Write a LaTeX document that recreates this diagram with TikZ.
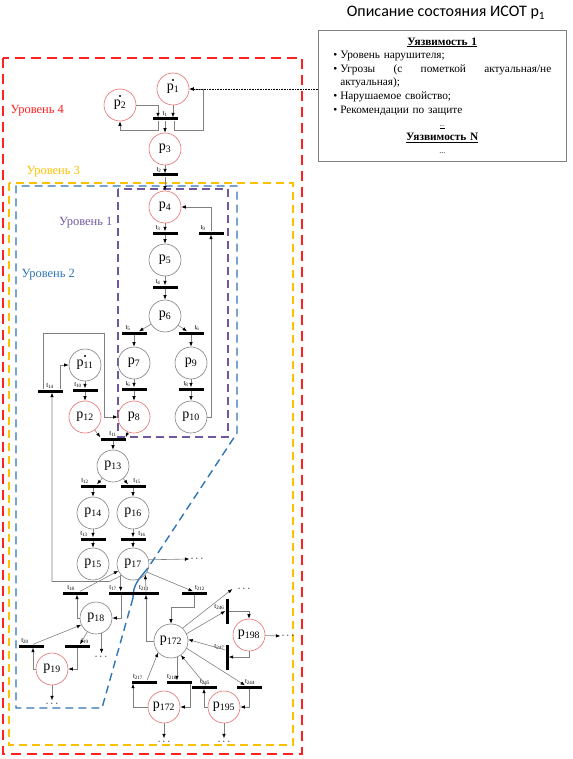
\documentclass[tikz,border=0pt]{standalone}
\usepackage{fontspec}
\setmainfont{Liberation Serif}
\newfontfamily\titlefont{Carlito}
\usetikzlibrary{arrows.meta}
\definecolor{lvlred}{RGB}{255,32,32}
\definecolor{lvlyellow}{RGB}{255,192,0}
\definecolor{lvlblue}{RGB}{46,117,182}
\definecolor{lvlpurple}{RGB}{112,88,160}
\definecolor{placered}{RGB}{232,110,110}
\definecolor{arcgray}{RGB}{128,128,128}
\newcommand\pn[1]{p\textsubscript{#1}}
\newcommand\tn[1]{t\textsubscript{#1}}
\tikzset{
    place/.style={circle,draw=arcgray,line width=0.6pt,minimum size=32pt,inner sep=0pt,
        font=\fontsize{14}{14}\selectfont},
    mplace/.style={place,draw=placered},
    trans/.style={fill=black,minimum width=25pt,minimum height=3pt,inner sep=0pt},
    vtrans/.style={fill=black,minimum width=3pt,minimum height=25pt,inner sep=0pt},
    tlab/.style={font=\fontsize{7}{7}\selectfont,inner sep=0.8pt},
    flow/.style={draw=arcgray,line width=0.6pt,-{Latex[length=4.5pt,width=3.5pt,color=black]}},
    lvlbox/.style={dash pattern=on 8pt off 5pt,line width=1.4pt},
    lvltext/.style={font=\fontsize{12.5}{12.5}\selectfont,anchor=west},
    dotsnode/.style={inner sep=1pt,font=\fontsize{11}{11}\selectfont},
    infobox/.style={draw=arcgray,line width=0.6pt,text width=218pt,inner xsep=15pt,
        inner ysep=4pt,minimum height=131pt,anchor=north west,
        font=\fontsize{11.3}{13.6}\selectfont}}

\begin{document}
\begin{tikzpicture}[x=1pt,y=-1pt]
\useasboundingbox (0,0) rectangle (572,759);

% levels
\draw[lvlbox,lvlred,line width=2pt,dash pattern=on 10pt off 6pt] (3,58) rectangle (302,754);
\draw[lvlbox,lvlyellow] (9,183) rectangle (293,745);
\draw[lvlbox,lvlpurple] (118,189) rectangle (228,437);
\draw[lvlbox,lvlblue] (133,598) -- (102,708) -- (16,708) -- (16,186) -- (237,186) -- (237,433) -- (148,568);
\draw[lvlblue,line width=1.4pt] (148,568) .. controls (138,580) and (133,585) .. (133,598);
\node[lvltext,text=lvlred] (lv4) at (7,111) {Уровень 4};
\node[lvltext,text=lvlyellow] (lv3) at (23,172) {Уровень 3};
\node[lvltext,text=lvlpurple,anchor=east] (lv1) at (116,223) {Уровень 1};
\node[lvltext,text=lvlblue] (lv2) at (18,275) {Уровень 2};

% description of p1
\node[font=\titlefont\fontsize{16}{16}\selectfont] (title) at (446,13) {Описание состояния ИСОТ \pn{1}};
\node[infobox] (box) at (318,30) {%
    {\centering\underline{\textbf{Уязвимость 1}}\par}
    \makebox[7pt][l]{\textbullet}Уровень нарушителя;\\
    \makebox[7pt][l]{\textbullet}\makebox[211pt][l]{Угрозы\hfill(с\hfill пометкой\hfill актуальная/не}\\
    \hspace*{7pt}актуальная);\\
    \makebox[7pt][l]{\textbullet}Нарушаемое свойство;\\
    \makebox[7pt][l]{\textbullet}Рекомендации по защите\par
    {\centering\underline{\fontsize{7}{7}\selectfont...}\par
    \underline{\textbf{Уязвимость N}}\par
    {\fontsize{8}{8}\selectfont...}\par}};

% places
\node[mplace] (p1) at (173,89) {\pn{1}};
\node[mplace] (p2) at (120,105) {\pn{2}};
\node[mplace] (p3) at (165,149) {\pn{3}};
\node[mplace] (p4) at (165,207) {\pn{4}};
\node[place] (p5) at (165,260) {\pn{5}};
\node[place] (p6) at (165,316) {\pn{6}};
\node[place] (p7) at (134,363) {\pn{7}};
\node[place] (p9) at (191,363) {\pn{9}};
\node[mplace] (p8) at (134,417) {\pn{8}};
\node[place] (p10) at (191,417) {\pn{10}};
\node[place] (p11) at (85,365) {\pn{11}};
\node[mplace] (p12) at (85,417) {\pn{12}};
\node[place] (p13) at (113,466) {\pn{13}};
\node[place] (p14) at (93,513) {\pn{14}};
\node[place] (p16) at (133,513) {\pn{16}};
\node[place] (p15) at (93,564) {\pn{15}};
\node[place] (p17) at (133,564) {\pn{17}};
\node[place] (p18) at (96,618) {\pn{18}};
\node[mplace] (p19) at (52,669) {\pn{19}};
\node[place,minimum size=34pt] (p172a) at (171,641) {\pn{172}};
\node[mplace] (p198) at (249,635) {\pn{198}};
\node[mplace] (p172b) at (164,707) {\pn{172}};
\node[mplace] (p195) at (224,707) {\pn{195}};
% tokens
\fill ([yshift=9pt]p1.center) circle (1.1pt);
\fill ([yshift=9pt]p2.center) circle (1.1pt);
\fill ([yshift=9pt]p11.center) circle (1.1pt);

% transitions
\node[trans,label={[tlab]above:\tn{1}}] (t1) at (165,119) {};
\node[trans,label={[tlab,xshift=-6pt]above:\tn{2}}] (t2) at (165,175) {};
\node[trans,label={[tlab,xshift=-7pt]above:\tn{3}}] (t3) at (165,233) {};
\node[trans,label={[tlab,xshift=-7pt]above:\tn{4}}] (t4) at (165,287) {};
\node[trans,label={[tlab,xshift=-6pt]above:\tn{5}}] (t5) at (134,333) {};
\node[trans,label={[tlab,xshift=6pt]above:\tn{6}}] (t6a) at (191,333) {};
\node[trans,label={[tlab,xshift=-6pt]above:\tn{6}}] (t6b) at (134,389) {};
\node[trans,label={[tlab,xshift=-5pt]above:\tn{8}}] (t8) at (191,389) {};
\node[trans,label={[tlab,xshift=-8pt]above:\tn{9}}] (t9) at (211,233) {};
\node[trans,label={[tlab,xshift=-7pt]above:\tn{10}}] (t10) at (85,390) {};
\node[trans,label={[tlab]above:\tn{14}}] (t14) at (50,391) {};
\node[trans,label={[tlab]above:\tn{11}}] (t11) at (113,439) {};
\node[trans,label={[tlab,xshift=-8pt]above:\tn{12}}] (t12) at (93,486) {};
\node[trans,label={[tlab,xshift=4pt]above:\tn{15}}] (t15) at (133,486) {};
\node[trans,label={[tlab,xshift=-9pt]above:\tn{13}}] (t13) at (93,539) {};
\node[trans,label={[tlab,xshift=9pt]above:\tn{16}}] (t16) at (133,539) {};
\node[trans,label={[tlab,xshift=-4pt]above:\tn{18}}] (t18) at (75,593) {};
\node[trans,label={[tlab,xshift=-8pt]above:\tn{17}}] (t17) at (121,593) {};
\node[trans,label={[tlab,xshift=-2pt]above:\tn{213}}] (t213) at (146,593) {};
\node[trans,label={[tlab,xshift=6pt]above:\tn{212}}] (t212) at (194,593) {};
\node[trans,label={[tlab,xshift=-6pt]above:\tn{20}}] (t20) at (31,646) {};
\node[trans,label={[tlab,xshift=8pt]above:\tn{19}}] (t19) at (77,646) {};
\node[trans,label={[tlab,xshift=-6pt]above:\tn{217}}] (t217) at (144,682) {};
\node[trans,label={[tlab,xshift=-7pt]above:\tn{216}}] (t216) at (179,682) {};
\node[trans,label={[tlab,xshift=1pt]above:\tn{245}}] (t245) at (204,687) {};
\node[trans,label={[tlab,xshift=1pt]above:\tn{244}}] (t244) at (249,687) {};
\node[vtrans,label={[tlab,yshift=4pt]left:\tn{246}}] (t246) at (227,611) {};
\node[vtrans,label={[tlab,yshift=10pt]left:\tn{247}}] (t247) at (227,657) {};

% continuation dots
\node[dotsnode] (d17) at (197,559) {$\cdots$};
\node[dotsnode] (d18) at (101,657) {$\cdots$};
\node[dotsnode] (d19) at (52,704) {$\cdots$};
\node[dotsnode] (d172) at (244,589) {$\cdots$};
\node[dotsnode] (d198) at (288,636) {$\cdots$};
\node[dotsnode] (d172b) at (164,742) {$\cdots$};
\node[dotsnode] (d195) at (224,742) {$\cdots$};

% arcs, level 4
\draw[flow] (p2) -| ([xshift=-7pt]t1.north);
\draw[flow] (p1) -- (p1 |- t1.north);
\draw[flow] (t1) -- (p3);
\draw[flow] ([xshift=-7pt]t1.south) -- ++(0,10) -| (p2);
\draw[flow] ([xshift=9pt]t1.south) -- ++(0,10) -| ([xshift=14pt]p1.east) -- (p1.east);
\draw[flow,densely dotted,line width=0.9pt,draw=black] (box.west |- p1.east) -- (p1.east);
\draw[flow] (p3) -- (t2);
\draw[flow] (t2) -- (p4);
% level 1
\draw[flow] (p4) -- (t3);
\draw[flow] (t3) -- (p5);
\draw[flow] (p5) -- (t4);
\draw[flow] (t4) -- (p6);
\draw[flow] (p6) -- ([xshift=5pt]t5.north);
\draw[flow] (p6) -- ([xshift=-4pt]t6a.north);
\draw[flow] (t5) -- (p7);
\draw[flow] (t6a) -- (p9);
\draw[flow] (p7) -- (t6b);
\draw[flow] (t6b) -- (p8);
\draw[flow] (p9) -- (t8);
\draw[flow] (t8) -- (p10);
\draw[flow] (p10) -| (t9);
\draw[flow] (t9) |- (p4);
% level 2
\draw[flow] (p11) -- (t10);
\draw[flow] (t10) -- (p12);
\draw[flow] ([xshift=10pt]t14.north) |- (p11);
\draw[flow] ([xshift=-7pt]t14.north) -- ++(0,-56) -| ([xshift=-13pt]p8.west) -- (p8.west);
\draw[flow] (p12) -- (t11.north west);
\draw[flow] (p8) -- (t11.north east);
\draw[flow] (t11) -- (p13);
\draw[flow] (p13) -- ([xshift=4pt]t12.north);
\draw[flow] (p13) -- ([xshift=-5pt]t15.north);
\draw[flow] (t12) -- (p14);
\draw[flow] (t15) -- (p16);
\draw[flow] (p14) -- (t13);
\draw[flow] (t13) -- (p15);
\draw[flow] (p16) -- (t16);
\draw[flow] (t16) -- (p17);
\draw[flow] (p17.15) -- (d17.west);
\draw[flow] (p17.225) -- ++(-12,6) -| ([xshift=2pt]t14.south);
\draw[flow] ([xshift=5pt]t18.north) -- (p17.205);
\draw[flow] (p17.221) -- (p17.221 |- t17.north);
\draw[flow] (t17.south) |- (p18);
\draw[flow] (t213.north) -- (p17.319);
\draw[flow] (p172a) -| (t213.south);
\draw[flow] (p17.330) -- ([xshift=-1pt]t212.north);
\draw[flow] (t212.south) -- ++(0,13) -| (p172a);
\draw[flow] (p18) -| ([xshift=2pt]t18.south);
\draw[flow] ([xshift=2pt]t20.north) -- (p18.205);
\draw[flow] (p19) -| ([xshift=2pt]t20.south);
\draw[flow] (p18.238) -- ([xshift=3pt]t19.north);
\draw[flow] (t19.south) |- (p19);
\draw[flow] (p18.290) -- (p18.290 |- d18.north);
\draw[flow] (p19) -- (d19.north);
% level 3
\draw[flow] (p172a.48) -- ([xshift=-4pt]d172.west);
\draw[flow] (p172a.25) -- (t246.west);
\draw[flow] (t246.east) -| (p198);
\draw[flow] (p198) -- (d198.west);
\draw[flow] (p198) |- (t247.east);
\draw[flow] ([yshift=7pt]t247.west) -- (p172a.5);
\draw[flow] ([xshift=3pt]t217.north) -- (p172a.222);
\draw[flow] (p172b) -| ([xshift=-11pt]t217.south);
\draw[flow] (p172a.290) -- (p172a.290 |- t216.north);
\draw[flow] ([xshift=11pt]t216.south) |- (p172b);
\draw[flow] ([xshift=2pt]t245.north) -- (p172a.305);
\draw[flow] (p195) -| (t245.south);
\draw[flow] (p172a.335) -- ([xshift=-4pt]t244.north);
\draw[flow] (t244.south) |- (p195);
\draw[flow] (p172b) -- (d172b.north);
\draw[flow] (p195) -- (d195.north);
\end{tikzpicture}
\end{document}
